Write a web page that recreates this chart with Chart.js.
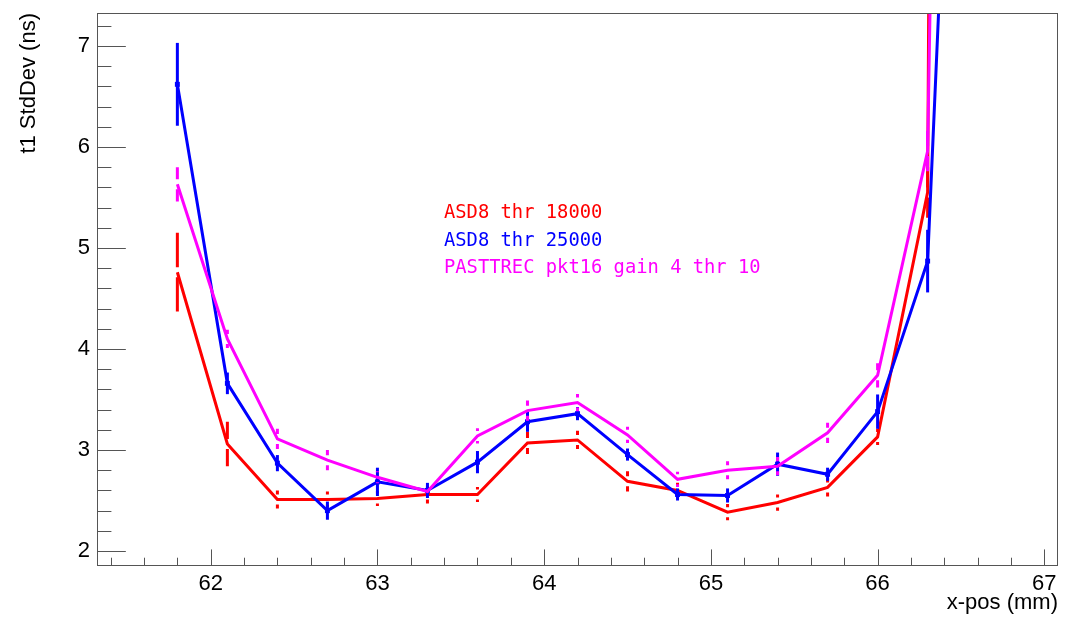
<!DOCTYPE html>
<html>
<head>
<meta charset="utf-8">
<script src="https://cdn.jsdelivr.net/npm/chart.js@4/dist/chart.umd.min.js"></script>
<style>
html,body{margin:0;padding:0;background:#fff;}
#wrap{width:1067px;height:617px;}
</style>
</head>
<body>
<div id="wrap"><canvas id="c" width="1067" height="617"></canvas></div>
<script>
// ---- data ----
const xPos = [61.8, 62.1, 62.4, 62.7, 63.0, 63.3, 63.6, 63.9, 64.2, 64.5, 64.8, 65.1, 65.4, 65.7, 66.0, 66.3, 66.6];

const redVals = [4.76, 3.06, 2.51, 2.51, 2.52, 2.56, 2.56, 3.07, 3.10, 2.69, 2.60, 2.385, 2.48, 2.63, 3.13, 5.55, 90];
const redErr  = [0.39, 0.22, 0.09, 0.08, 0.075, 0.09, 0.075, 0.11, 0.09, 0.10, 0.075, 0.08, 0.08, 0.09, 0.08, 0.25, 2];

const blueVals = [6.62, 3.66, 2.87, 2.40, 2.685, 2.60, 2.88, 3.28, 3.36, 2.955, 2.56, 2.55, 2.86, 2.76, 3.38, 4.87, 16.1];
const blueErr  = [0.41, 0.107, 0.08, 0.09, 0.14, 0.075, 0.11, 0.10, 0.065, 0.06, 0.06, 0.07, 0.115, 0.065, 0.17, 0.31, 1];

const magVals = [5.63, 4.10, 3.11, 2.90, 2.73, 2.59, 3.14, 3.39, 3.47, 3.15, 2.71, 2.80, 2.84, 3.17, 3.74, 5.96, 35];
const magErr  = [0.17, 0.09, 0.10, 0.10, 0.06, 0.05, 0.075, 0.10, 0.085, 0.08, 0.075, 0.09, 0.09, 0.10, 0.12, 0.2, 1];

const seriesLabels = ['ASD8 thr 18000', 'ASD8 thr 25000', 'PASTTREC pkt16 gain 4 thr 10'];

const xTickValues = [61.4, 61.6, 61.8, 62.0, 62.2, 62.4, 62.6, 62.8, 63.0, 63.2, 63.4, 63.6, 63.8,
                     64.0, 64.2, 64.4, 64.6, 64.8, 65.0, 65.2, 65.4, 65.6, 65.8, 66.0, 66.2, 66.4,
                     66.6, 66.8, 67.0];
const xTickLabels = ['62', '63', '64', '65', '66', '67'];
const yTickValues = [2.0, 2.2, 2.4, 2.6, 2.8, 3.0, 3.2, 3.4, 3.6, 3.8, 4.0, 4.2, 4.4, 4.6, 4.8,
                     5.0, 5.2, 5.4, 5.6, 5.8, 6.0, 6.2, 6.4, 6.6, 6.8, 7.0, 7.2];
const yTickLabels = ['2', '3', '4', '5', '6', '7'];

const xTitle = 'x-pos (mm)';
const yTitle = 't1 StdDev (ns)';

// ---- helpers ----
const RED = '#ff0000', BLUE = '#0000ff', MAG = '#ff00ff';
function toPoints(vals) { return xPos.map((x, i) => ({ x: x, y: vals[i] })); }
function isMajor(v) { return Math.abs(v - Math.round(v)) < 1e-6; }
function labelFor(v, labels) {
  const s = String(Math.round(v));
  return (isMajor(v) && labels.includes(s)) ? s : '';
}

const errorBars = {
  id: 'errorBars',
  afterDatasetDraw(chart, args) {
    const ds = chart.data.datasets[args.index];
    if (!ds.errors) return;
    const { ctx, chartArea: a, scales: { x, y } } = chart;
    ctx.save();
    ctx.beginPath();
    ctx.rect(a.left, a.top, a.right - a.left, a.bottom - a.top);
    ctx.clip();
    ctx.strokeStyle = ds.borderColor;
    ctx.lineWidth = 3;
    ctx.lineCap = 'butt';
    ds.data.forEach((p, i) => {
      const e = ds.errors[i];
      const px = x.getPixelForValue(p.x);
      const pc = y.getPixelForValue(p.y);
      const pt = y.getPixelForValue(p.y + e);
      const pb = y.getPixelForValue(p.y - e);
      const g = ds.errGap || 0;
      ctx.beginPath();
      if (g > 0) {
        if (pc - g > pt) { ctx.moveTo(px, pt); ctx.lineTo(px, pc - g); }
        if (pc + g < pb) { ctx.moveTo(px, pc + g); ctx.lineTo(px, pb); }
      } else {
        ctx.moveTo(px, pt); ctx.lineTo(px, pb);
      }
      ctx.stroke();
    });
    ctx.restore();
  }
};

const rootFrame = {
  id: 'rootFrame',
  afterDraw(chart) {
    const { ctx, chartArea: a, scales: { x, y } } = chart;
    ctx.save();
    ctx.strokeStyle = '#555';
    ctx.lineWidth = 1;
    ctx.strokeRect(Math.round(a.left) + 0.5, Math.round(a.top) + 0.5,
                   Math.round(a.right - a.left) - 1, Math.round(a.bottom - a.top) - 1);
    const W = a.right - a.left, H = a.bottom - a.top;
    ctx.beginPath();
    x.ticks.forEach(t => {
      const px = Math.round(x.getPixelForValue(t.value)) + 0.5;
      const len = isMajor(t.value) ? 0.03 * H : 0.015 * H;
      ctx.moveTo(px, a.bottom);
      ctx.lineTo(px, a.bottom - len);
    });
    y.ticks.forEach(t => {
      const py = Math.round(y.getPixelForValue(t.value)) + 0.5;
      const len = isMajor(t.value) ? 0.03 * W : 0.015 * W;
      ctx.moveTo(a.left, py);
      ctx.lineTo(a.left + len, py);
    });
    ctx.stroke();

    // text legend
    ctx.font = '18.8px "DejaVu Sans Mono"';
    ctx.textAlign = 'left';
    ctx.textBaseline = 'alphabetic';
    const cols = [RED, BLUE, MAG];
    const lx = a.left + 347;
    const base = [a.top + 205, a.top + 232.5, a.top + 260];
    seriesLabels.forEach((s, i) => {
      ctx.fillStyle = cols[i];
      ctx.fillText(s, lx, base[i]);
    });
    ctx.restore();
  }
};

const axisFont = { family: '"Liberation Sans", Arial, Helvetica, sans-serif', size: 22 };

new Chart(document.getElementById('c'), {
  type: 'scatter',
  data: {
    datasets: [
      { label: seriesLabels[0], data: toPoints(redVals), errors: redErr, errGap: 5,
        borderColor: RED, backgroundColor: RED, borderWidth: 3, showLine: true,
        pointRadius: 0, tension: 0, clip: 0, order: 3 },
      { label: seriesLabels[1], data: toPoints(blueVals), errors: blueErr, errGap: 0,
        borderColor: BLUE, backgroundColor: BLUE, borderWidth: 3, showLine: true,
        pointStyle: 'rect', pointRadius: 3.5, pointBorderWidth: 0, tension: 0, clip: 0, order: 2 },
      { label: seriesLabels[2], data: toPoints(magVals), errors: magErr, errGap: 5,
        borderColor: MAG, backgroundColor: MAG, borderWidth: 3, showLine: true,
        pointRadius: 0, tension: 0, clip: 0, order: 1 }
    ]
  },
  options: {
    responsive: false,
    animation: false,
    devicePixelRatio: 1,
    layout: { padding: { left: 0, top: 13, right: 9, bottom: 0 } },
    plugins: { legend: { display: false }, tooltip: { enabled: false } },
    scales: {
      x: {
        type: 'linear', min: 61.318, max: 67.082,
        afterBuildTicks: s => { s.ticks = xTickValues.map(v => ({ value: v })); },
        afterFit: s => { s.height = 51; s.paddingLeft = 0; s.paddingRight = 0; },
        grid: { display: false, drawTicks: false },
        border: { display: false },
        ticks: { autoSkip: false, maxRotation: 0, minRotation: 0, padding: 5, color: '#000',
                 font: axisFont, callback: v => labelFor(v, xTickLabels) },
        title: { display: true, text: xTitle, align: 'end', color: '#000', font: axisFont,
                 padding: { top: 0, bottom: 1 } }
      },
      y: {
        type: 'linear', min: 1.852, max: 7.326,
        afterBuildTicks: s => { s.ticks = yTickValues.map(v => ({ value: v })); },
        afterFit: s => { s.width = 97; s.paddingTop = 0; s.paddingBottom = 0; },
        grid: { display: false, drawTicks: false },
        border: { display: false },
        ticks: { autoSkip: false, padding: 7, color: '#000', font: axisFont,
                 callback: v => labelFor(v, yTickLabels) },
        title: { display: true, text: yTitle, align: 'end', color: '#000', font: axisFont,
                 padding: { top: 16, bottom: 0 } }
      }
    }
  },
  plugins: [errorBars, rootFrame]
});
</script>
</body>
</html>
